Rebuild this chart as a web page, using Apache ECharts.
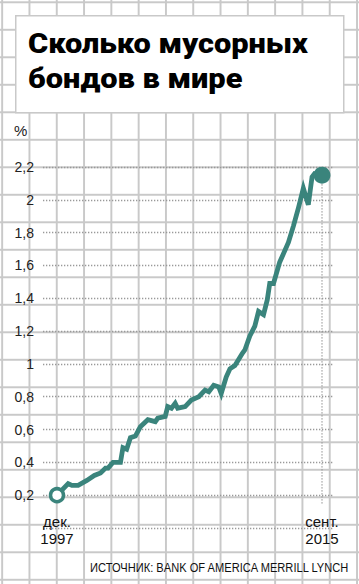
<!DOCTYPE html>
<html>
<head>
<meta charset="utf-8">
<script src="https://cdn.jsdelivr.net/npm/echarts@6/dist/echarts.min.js"></script>
<style>
  html, body { margin: 0; padding: 0; background: #fff; }
  #chart {
    width: 359px; height: 584px;
    background-color: #fff;
    background-image:
      linear-gradient(to right, #c9c9c9 1.5px, transparent 1.5px),
      linear-gradient(to bottom, #c9c9c9 1.5px, transparent 1.5px);
    background-size: 27.3px 27.5px;
    background-position: 1.2px 1.3px;
  }
</style>
</head>
<body>
<div id="chart"></div>
<script>
// ---- data ----
const titleLines = ['Сколько мусорных', 'бондов в мире'];
const unitLabel = '%';
const sourceText = 'ИСТОЧНИК: BANK OF AMERICA MERRILL LYNCH';
const dates = ['1997-12','1998-09','1998-12','1999-05','1999-12','2000-06','2000-11','2001-03','2001-05','2001-09',
  '2002-03','2002-05','2002-08','2002-11','2003-03','2003-07','2004-01','2004-07','2004-09','2005-03',
  '2005-05','2005-08','2005-11','2006-01','2006-07','2006-12','2007-06','2007-11','2008-02','2008-06',
  '2008-10','2008-12','2009-04','2009-07','2009-11','2010-05','2010-07','2010-11','2011-03','2011-06',
  '2011-10','2012-01','2012-03','2012-06','2012-11','2013-06','2013-10','2014-02','2014-06','2014-10',
  '2015-01','2015-03','2015-09'];
const values = [0.20,0.27,0.26,0.26,0.29,0.32,0.335,0.365,0.365,0.40,
  0.40,0.49,0.48,0.55,0.56,0.617,0.66,0.648,0.669,0.68,
  0.74,0.73,0.76,0.73,0.74,0.78,0.80,0.84,0.83,0.87,
  0.86,0.82,0.92,0.97,0.99,1.065,1.085,1.17,1.23,1.32,
  1.30,1.39,1.49,1.49,1.62,1.74,1.84,1.95,2.07,1.97,
  2.14,2.16,2.15];
const xTickLabels = ['дек.\n1997', 'сент.\n2015'];
const yMin = 0, yMax = 2.2, yStep = 0.2;
const dropTo = 0.15;

// ---- build ----
function monthIndex(s) { const p = s.split('-'); return (+p[0]) * 12 + (+p[1] - 1); }
const m0 = monthIndex(dates[0]);
const series = dates.map((d, i) => [monthIndex(d) - m0, values[i]]);
const first = series[0], last = series[series.length - 1];
const t0 = first[0], t1 = last[0];

// plot frame: data span mapped to 57..322 inside grid 43..333
const gridLeft = 43, gridRight = 333, dataLeft = 57, dataRight = 322;
const pxPerM = (dataRight - dataLeft) / (t1 - t0);
const xMin = t0 - (dataLeft - gridLeft) / pxPerM;
const xMax = t1 + (gridRight - dataRight) / pxPerM;

const teal = '#3a847c';
const sans = "'Liberation Sans', Arial, sans-serif";
const titleFont = "900 28px Roboto, 'Liberation Sans', sans-serif";
const sourceFont = "13.5px 'Liberation Sans', Arial, sans-serif";

// horizontal squeeze to imitate the condensed fonts of the original
const ctx = document.createElement('canvas').getContext('2d');
function widthOf(font, s) { ctx.font = font; return ctx.measureText(s).width; }
const titleScale = 280 / widthOf(titleFont, titleLines[0]);
const sourceScale = 260 / widthOf(sourceFont, sourceText);

const chart = echarts.init(document.getElementById('chart'), null, { renderer: 'svg' });
chart.setOption({
  animation: false,
  graphic: [{
    type: 'rect', left: 15, top: 15, z: 0,
    shape: { width: 328, height: 97 },
    style: { fill: '#fff', stroke: '#c9c9c9', lineWidth: 1.5 }
  }, {
    type: 'text', x: 28, y: 43.5, scaleX: titleScale, z: 5,
    style: { text: titleLines[0], font: titleFont, fill: '#000', verticalAlign: 'middle', align: 'left' }
  }, {
    type: 'text', x: 28, y: 78.5, scaleX: titleScale, z: 5,
    style: { text: titleLines[1], font: titleFont, fill: '#000', verticalAlign: 'middle', align: 'left' }
  }, {
    type: 'text', x: 90, y: 568, scaleX: sourceScale, z: 5,
    style: { text: sourceText, font: sourceFont, fill: '#111', verticalAlign: 'middle', align: 'left' }
  }, {
    type: 'text', x: 14, y: 130, z: 5,
    style: { text: unitLabel, font: "15px 'Liberation Sans', Arial, sans-serif", fill: '#222', verticalAlign: 'middle', align: 'left' }
  }],
  grid: [
    { left: gridLeft, right: 359 - gridRight, top: 167, bottom: 56, containLabel: false },
    { left: dataLeft, right: 359 - dataRight, top: 167, bottom: 56, containLabel: false }
  ],
  xAxis: [{
    type: 'value', min: xMin, max: xMax, gridIndex: 0,
    axisLine: { show: false }, axisTick: { show: false }, splitLine: { show: false },
    axisLabel: { show: false }
  }, {
    type: 'value', min: t0, max: t1, interval: t1 - t0, gridIndex: 1,
    axisLine: { show: false }, axisTick: { show: false }, splitLine: { show: false },
    axisLabel: {
      margin: -15,
      formatter: (v) => (v === t0 ? xTickLabels[0] : xTickLabels[1]),
      fontFamily: sans, fontSize: 15, lineHeight: 17, color: '#111', align: 'center'
    }
  }],
  yAxis: [{
    type: 'value', min: yMin, max: yMax, interval: yStep, gridIndex: 0,
    axisLine: { show: false }, axisTick: { show: false },
    axisLabel: {
      margin: 9, fontFamily: sans, fontSize: 14, color: '#222',
      formatter: (v) => (v === 0 ? '' : String(Math.round(v * 10) / 10).replace('.', ','))
    },
    splitLine: { show: true, lineStyle: { type: [1.3, 1.7], color: '#999', width: 1.3 } }
  }, {
    type: 'value', min: yMin, max: yMax, gridIndex: 1, show: false
  }],
  series: [{
    type: 'line', data: [[last[0], last[1]], [last[0], dropTo]],
    symbol: 'none', silent: true, z: 1,
    lineStyle: { type: [1.3, 1.7], color: '#999', width: 1.3 }
  }, {
    type: 'line', data: series, symbol: 'none', z: 3,
    lineStyle: { color: teal, width: 4.8, join: 'miter' }
  }, {
    type: 'scatter', z: 4,
    itemStyle: { opacity: 1 },
    data: [
      { value: first, symbolSize: 13, itemStyle: { color: '#fff', borderColor: teal, borderWidth: 3.5, opacity: 1 } },
      { value: last, symbolSize: 17, itemStyle: { color: teal, opacity: 1 } }
    ]
  }]
});
</script>
</body>
</html>
